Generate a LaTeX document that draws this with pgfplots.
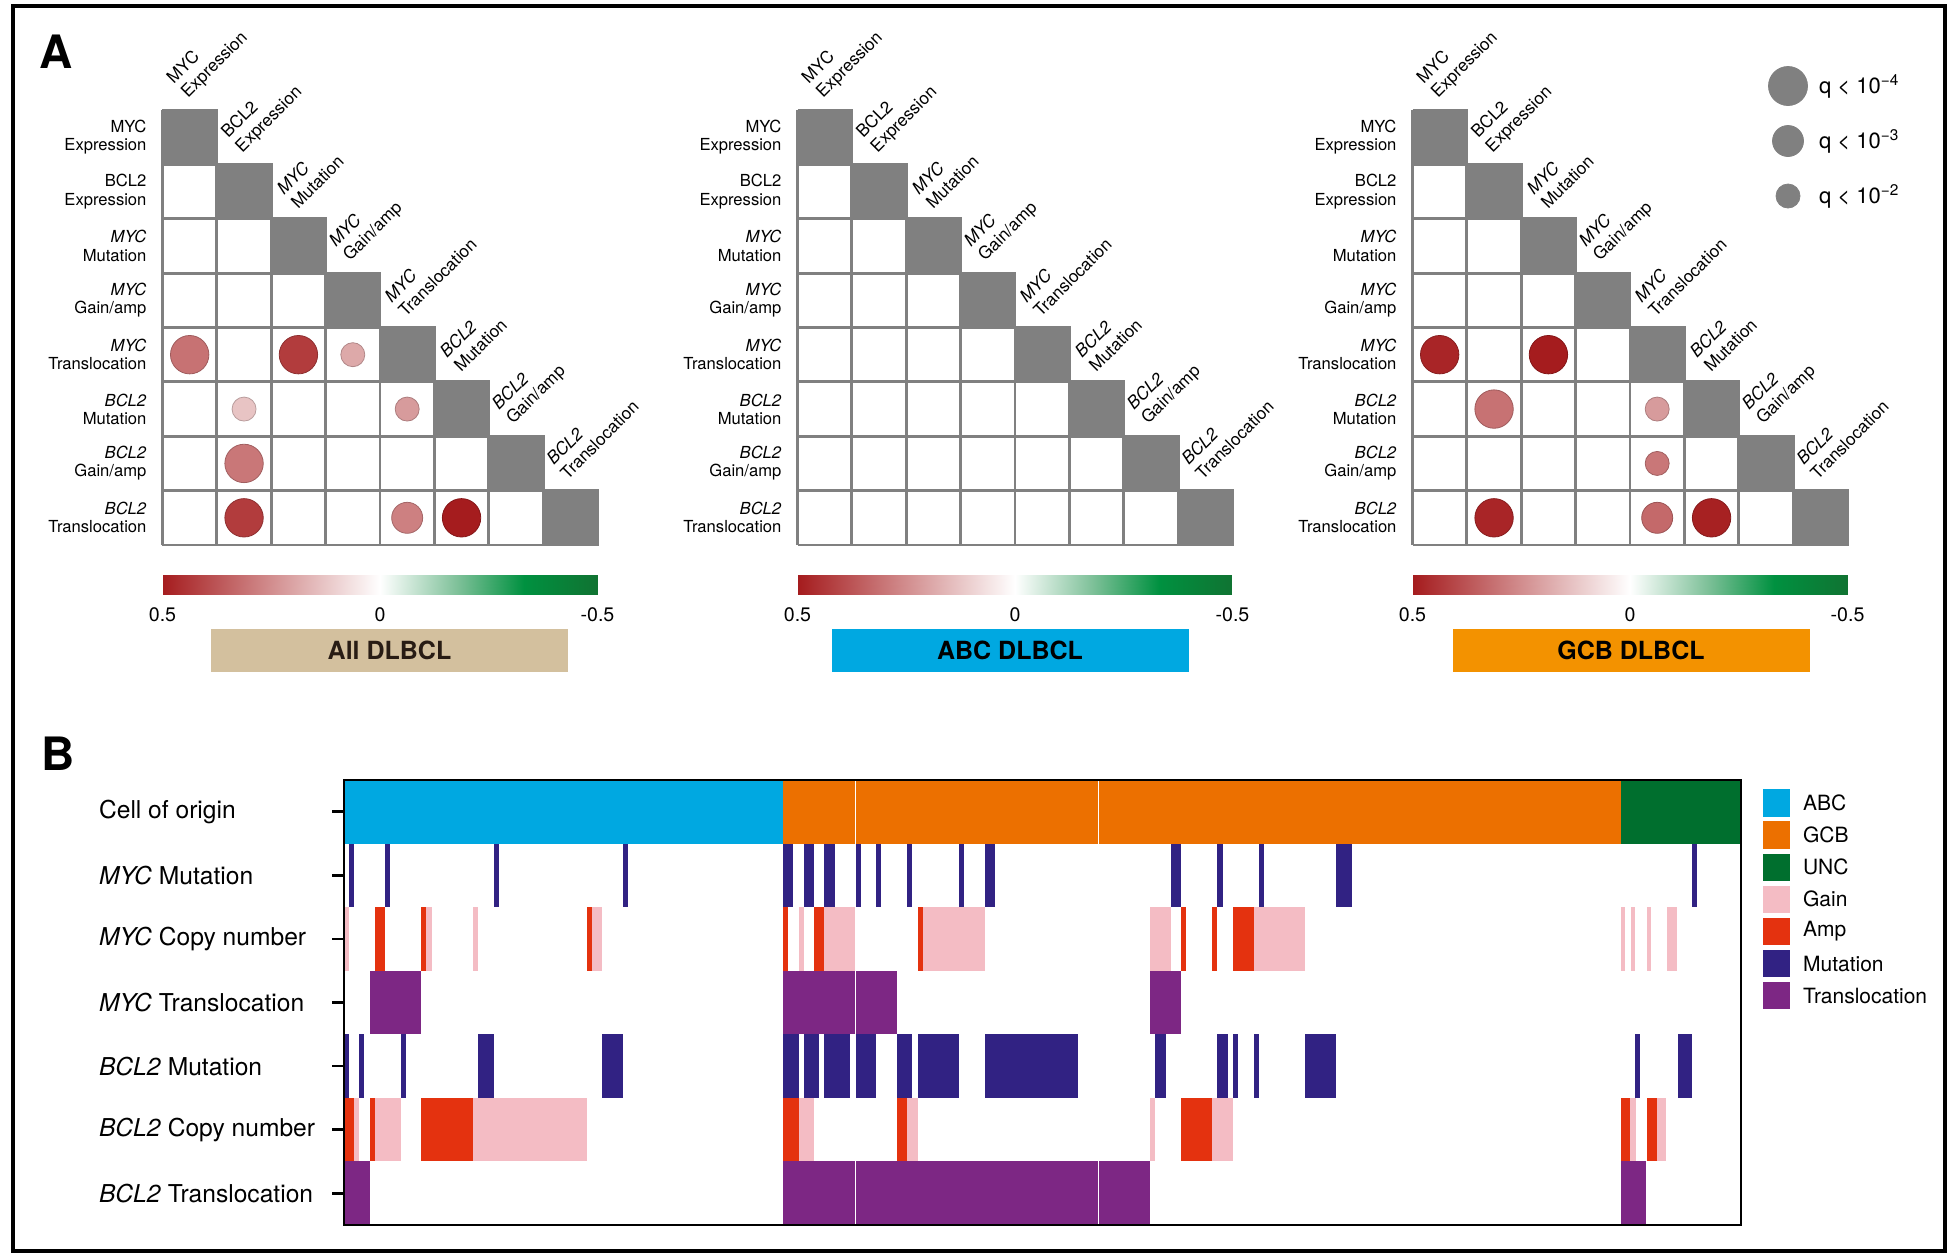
\documentclass[border=0pt]{standalone}
\usepackage{pgfplots}
\pgfplotsset{compat=1.18}
\usepackage{fontspec}
\setmainfont{TeX Gyre Heros}
\definecolor{gridc}{RGB}{128,128,128}
\definecolor{abc}{RGB}{0,168,225}
\definecolor{gcb}{RGB}{236,112,0}
\definecolor{unc}{RGB}{0,111,46}
\definecolor{gain}{RGB}{244,188,196}
\definecolor{amp}{RGB}{228,50,15}
\definecolor{mut}{RGB}{49,34,131}
\definecolor{trans}{RGB}{125,39,132}
\definecolor{tanbox}{RGB}{211,192,158}
\definecolor{gcbbox}{RGB}{243,146,0}
\definecolor{darktxt}{RGB}{40,28,20}

\tikzset{diaglab/.style={rotate=45, anchor=south west, align=left, font=\fontsize{8.6}{10}\selectfont, inner sep=0pt}}
\pgfplotsset{
  corrmap/.style={colormap={corr}{rgb255(0cm)=(16,115,50) rgb255(1.7cm)=(0,145,64) rgb255(3.2cm)=(125,192,152) rgb255(5cm)=(255,255,255) rgb255(10cm)=(165,28,30)}},
  mat/.style={anchor=south west, scale only axis, width=217.5pt, height=217.5pt,
    xmin=0, xmax=8, ymin=0, ymax=8, y dir=reverse, clip=false,
    axis line style={draw=none}, tick style={draw=none},
    xtick=\empty, ytick={0.5,1.5,...,7.5},
    yticklabels={{MYC\\Expression},{BCL2\\Expression},{\textit{MYC}\\Mutation},{\textit{MYC}\\Gain/amp},{\textit{MYC}\\Translocation},{\textit{BCL2}\\Mutation},{\textit{BCL2}\\Gain/amp},{\textit{BCL2}\\Translocation}},
    yticklabel style={align=right, font=\fontsize{8.3}{9.1}\selectfont, xshift=-4.5pt},
    corrmap, point meta min=-0.5, point meta max=0.5},
  cbar/.style={anchor=south west, scale only axis, width=217.5pt, height=10pt,
    xmin=-0.5, xmax=0.5, ymin=0, ymax=1, x dir=reverse, view={0}{90},
    axis line style={draw=none}, tick style={draw=none}, ytick=\empty, ztick=\empty,
    xtick={-0.5,0,0.5}, xticklabels={-0.5,0,0.5},
    xticklabel style={font=\fontsize{9.8}{11}\selectfont, yshift=-3pt},
    corrmap, point meta min=-0.5, point meta max=0.5},
}

\newcommand{\matbody}{%
  \addplot[gridc, line width=1.4pt, unbounded coords=jump, forget plot] coordinates {
    (0,1) (2,1) (nan,nan) (0,2) (3,2) (nan,nan) (0,3) (4,3) (nan,nan) (0,4) (5,4) (nan,nan)
    (0,5) (6,5) (nan,nan) (0,6) (7,6) (nan,nan) (0,7) (8,7) (nan,nan) (0,8) (8,8) (nan,nan)
    (0,0) (0,8) (nan,nan) (1,0) (1,8) (nan,nan) (2,1) (2,8) (nan,nan) (3,2) (3,8) (nan,nan)
    (4,3) (4,8) (nan,nan) (5,4) (5,8) (nan,nan) (6,5) (6,8) (nan,nan) (7,6) (7,8) (nan,nan)
    (8,7) (8,8)};
  \addplot[fill=gridc, draw=gridc, line width=1.4pt, unbounded coords=jump, forget plot] coordinates {
    (0,0) (1,0) (1,1) (0,1) (0,0) (nan,nan)
    (1,1) (2,1) (2,2) (1,2) (1,1) (nan,nan)
    (2,2) (3,2) (3,3) (2,3) (2,2) (nan,nan)
    (3,3) (4,3) (4,4) (3,4) (3,3) (nan,nan)
    (4,4) (5,4) (5,5) (4,5) (4,4) (nan,nan)
    (5,5) (6,5) (6,6) (5,6) (5,5) (nan,nan)
    (6,6) (7,6) (7,7) (6,7) (6,6) (nan,nan)
    (7,7) (8,7) (8,8) (7,8) (7,7)};
  \node[diaglab] at (axis cs:0.52,-0.15) {MYC\\Expression};
  \node[diaglab] at (axis cs:1.52,0.85) {BCL2\\Expression};
  \node[diaglab] at (axis cs:2.5,1.85) {\textit{MYC}\\Mutation};
  \node[diaglab] at (axis cs:3.5,2.85) {\textit{MYC}\\Gain/amp};
  \node[diaglab] at (axis cs:4.48,3.83) {\textit{MYC}\\Translocation};
  \node[diaglab] at (axis cs:5.5,4.85) {\textit{BCL2}\\Mutation};
  \node[diaglab] at (axis cs:6.5,5.85) {\textit{BCL2}\\Gain/amp};
  \node[diaglab] at (axis cs:7.46,6.82) {\textit{BCL2}\\Translocation};
}
\newcommand{\circles}{%
  \addplot[scatter, only marks, mark=*, point meta=\thisrow{v},
    visualization depends on={\thisrow{s} \as \circsize},
    scatter/@pre marker code/.append style={/tikz/mark size=\circsize}]
}
\newcommand{\cbarplot}{%
  \addplot3[surf, shader=interp, point meta=x, mesh/cols=5] coordinates {
    (-0.5,0,0) (-0.33,0,0) (-0.18,0,0) (0,0,0) (0.5,0,0)
    (-0.5,1,0) (-0.33,1,0) (-0.18,1,0) (0,1,0) (0.5,1,0)};
}
\newcommand{\seg}[5]{\addplot[fill=#1, draw=none, forget plot] coordinates {(#2,#4) (#3,#4) (#3,#5) (#2,#5)};}

\begin{document}
\begin{tikzpicture}

% ---------- Panel A: All DLBCL ----------
\begin{axis}[mat, at={(81.25pt,357pt)}]
\matbody
\circles table {
x y v s
0.5 4.5 0.31 9.6
2.5 4.5 0.43 9.6
3.5 4.5 0.19 6
1.5 5.5 0.13 6
4.5 5.5 0.22 6
1.5 6.5 0.30 9.6
1.5 7.5 0.43 9.6
4.5 7.5 0.28 7.75
5.5 7.5 0.50 9.6
};
\end{axis}

% ---------- Panel A: ABC DLBCL ----------
\begin{axis}[mat, at={(398.75pt,357pt)}]
\matbody
\end{axis}

% ---------- Panel A: GCB DLBCL ----------
\begin{axis}[mat, at={(706.25pt,357pt)}]
\matbody
\circles table {
x y v s
0.5 4.5 0.48 9.6
2.5 4.5 0.50 9.6
1.5 5.5 0.31 9.6
4.5 5.5 0.22 6
4.5 6.5 0.30 6
1.5 7.5 0.48 9.6
4.5 7.5 0.33 7.75
5.5 7.5 0.49 9.6
};
\end{axis}

% ---------- colour bars ----------
\begin{axis}[cbar, at={(81.25pt,332pt)}]
\cbarplot
\end{axis}
\begin{axis}[cbar, at={(398.75pt,332pt)}]
\cbarplot
\end{axis}
\begin{axis}[cbar, at={(706.25pt,332pt)}]
\cbarplot
\end{axis}

% ---------- Panel B ----------
\begin{axis}[at={(172pt,17pt)}, anchor=south west, scale only axis,
  width=698.5pt, height=222.5pt,
  xmin=344, xmax=1741, ymin=0, ymax=7, axis on top,
  axis line style={line width=1.4pt},
  xtick=\empty, ytick={0.5,1.5,...,6.5},
  yticklabels={{\textit{BCL2} Translocation},{\textit{BCL2} Copy number},{\textit{BCL2} Mutation},{\textit{MYC} Translocation},{\textit{MYC} Copy number},{\textit{MYC} Mutation},{Cell of origin}},
  ytick pos=left, tick align=outside, major tick length=6pt,
  ytick style={line width=1.4pt, black},
  yticklabel style={anchor=west, xshift=-120pt, font=\fontsize{12.3}{14}\selectfont}]
% Cell of origin
\seg{abc}{344}{783}{6}{7}
\seg{gcb}{783}{854.6}{6}{7}
\seg{gcb}{855.6}{1098}{6}{7}
\seg{gcb}{1099}{1620.5}{6}{7}
\seg{unc}{1620.5}{1741}{6}{7}
% MYC Mutation
\seg{mut}{349}{354}{5}{6}
\seg{mut}{385}{390}{5}{6}
\seg{mut}{494}{499}{5}{6}
\seg{mut}{623}{628}{5}{6}
\seg{mut}{783}{792.7}{5}{6}
\seg{mut}{804}{814}{5}{6}
\seg{mut}{824}{834.7}{5}{6}
\seg{mut}{856}{860.7}{5}{6}
\seg{mut}{876}{880.7}{5}{6}
\seg{mut}{906.7}{912}{5}{6}
\seg{mut}{959}{964}{5}{6}
\seg{mut}{985}{995}{5}{6}
\seg{mut}{1170.7}{1181}{5}{6}
\seg{mut}{1216.7}{1223}{5}{6}
\seg{mut}{1258.7}{1263.7}{5}{6}
\seg{mut}{1336}{1352}{5}{6}
\seg{mut}{1692}{1697}{5}{6}
% MYC Copy number
\seg{gain}{345}{349}{4}{5}
\seg{amp}{375}{385}{4}{5}
\seg{amp}{421}{426}{4}{5}
\seg{gain}{426}{431.7}{4}{5}
\seg{gain}{473}{478}{4}{5}
\seg{amp}{587}{592}{4}{5}
\seg{gain}{592}{601.7}{4}{5}
\seg{amp}{783}{787.7}{4}{5}
\seg{gain}{799}{804}{4}{5}
\seg{amp}{814}{824}{4}{5}
\seg{gain}{824}{855}{4}{5}
\seg{amp}{918}{923}{4}{5}
\seg{gain}{923}{985}{4}{5}
\seg{gain}{1150}{1170.7}{4}{5}
\seg{amp}{1181}{1186}{4}{5}
\seg{amp}{1212}{1217}{4}{5}
\seg{amp}{1233}{1254}{4}{5}
\seg{gain}{1254}{1305}{4}{5}
\seg{gain}{1620.5}{1625}{4}{5}
\seg{gain}{1630.5}{1635}{4}{5}
\seg{gain}{1646.5}{1651}{4}{5}
\seg{gain}{1666.5}{1677}{4}{5}
% MYC Translocation
\seg{trans}{370}{421}{3}{4}
\seg{trans}{783}{854.6}{3}{4}
\seg{trans}{855.6}{897}{3}{4}
\seg{trans}{1150}{1181}{3}{4}
% BCL2 Mutation
\seg{mut}{344}{349}{2}{3}
\seg{mut}{359}{364}{2}{3}
\seg{mut}{401}{406}{2}{3}
\seg{mut}{478}{494}{2}{3}
\seg{mut}{602}{623}{2}{3}
\seg{mut}{783}{799}{2}{3}
\seg{mut}{804}{819}{2}{3}
\seg{mut}{824}{850}{2}{3}
\seg{mut}{856}{876}{2}{3}
\seg{mut}{897}{912}{2}{3}
\seg{mut}{918}{959}{2}{3}
\seg{mut}{985}{1078}{2}{3}
\seg{mut}{1155}{1166}{2}{3}
\seg{mut}{1217}{1228}{2}{3}
\seg{mut}{1233}{1238}{2}{3}
\seg{mut}{1254}{1259}{2}{3}
\seg{mut}{1305}{1336}{2}{3}
\seg{mut}{1635}{1640}{2}{3}
\seg{mut}{1678}{1692}{2}{3}
% BCL2 Copy number
\seg{amp}{344}{354}{1}{2}
\seg{gain}{354}{359}{1}{2}
\seg{amp}{370}{375}{1}{2}
\seg{gain}{375}{401}{1}{2}
\seg{amp}{421}{473}{1}{2}
\seg{gain}{473}{587}{1}{2}
\seg{amp}{783}{799}{1}{2}
\seg{gain}{799}{814}{1}{2}
\seg{amp}{897}{907}{1}{2}
\seg{gain}{907}{918}{1}{2}
\seg{gain}{1150}{1155}{1}{2}
\seg{amp}{1181}{1212}{1}{2}
\seg{gain}{1212}{1233}{1}{2}
\seg{amp}{1620.5}{1630}{1}{2}
\seg{gain}{1630}{1636}{1}{2}
\seg{amp}{1647}{1657}{1}{2}
\seg{gain}{1657}{1666}{1}{2}
% BCL2 Translocation
\seg{trans}{344}{370}{0}{1}
\seg{trans}{783}{854.6}{0}{1}
\seg{trans}{855.6}{1098}{0}{1}
\seg{trans}{1099}{1150}{0}{1}
\seg{trans}{1620.5}{1646}{0}{1}
\end{axis}

% ---------- overlay: legends, titles, frame ----------
\begin{axis}[at={(0pt,0pt)}, anchor=south west, scale only axis, width=980pt, height=629.5pt,
  xmin=0, xmax=1960, ymin=0, ymax=1259, y dir=reverse, hide axis, clip=false]
% panel B legend
\seg{abc}{1762.5}{1790}{789.3}{816.8}
\seg{gcb}{1762.5}{1790}{821.4}{848.9}
\seg{unc}{1762.5}{1790}{853.5}{881}
\seg{gain}{1762.5}{1790}{885.6}{913.1}
\seg{amp}{1762.5}{1790}{917.7}{945.2}
\seg{mut}{1762.5}{1790}{949.8}{977.3}
\seg{trans}{1762.5}{1790}{981.9}{1009.4}
\node[anchor=west, font=\fontsize{10.5}{12}\selectfont] at (axis cs:1796,803) {ABC};
\node[anchor=west, font=\fontsize{10.5}{12}\selectfont] at (axis cs:1796,835.1) {GCB};
\node[anchor=west, font=\fontsize{10.5}{12}\selectfont] at (axis cs:1796,867.2) {UNC};
\node[anchor=west, font=\fontsize{10.5}{12}\selectfont] at (axis cs:1796,899.3) {Gain};
\node[anchor=west, font=\fontsize{10.5}{12}\selectfont] at (axis cs:1796,931.4) {Amp};
\node[anchor=west, font=\fontsize{10.5}{12}\selectfont] at (axis cs:1796,963.5) {Mutation};
\node[anchor=west, font=\fontsize{10.5}{12}\selectfont] at (axis cs:1796,995.6) {Translocation};
% q-value size legend
\addplot[only marks, mark=*, color=gridc, mark size=9.75pt, forget plot] coordinates {(1788,86)};
\addplot[only marks, mark=*, color=gridc, mark size=7.75pt, forget plot] coordinates {(1788,141)};
\addplot[only marks, mark=*, color=gridc, mark size=6pt, forget plot] coordinates {(1788,196)};
\node[anchor=west, font=\fontsize{11}{13}\selectfont] at (axis cs:1812,86) {q < 10\textsuperscript{−4}};
\node[anchor=west, font=\fontsize{11}{13}\selectfont] at (axis cs:1812,141) {q < 10\textsuperscript{−3}};
\node[anchor=west, font=\fontsize{11}{13}\selectfont] at (axis cs:1812,196) {q < 10\textsuperscript{−2}};
% subset titles
\node[fill=tanbox, minimum width=178.5pt, minimum height=21.5pt, text=darktxt, font=\bfseries\fontsize{12.5}{14}\selectfont] at (axis cs:389.5,650.5) {All DLBCL};
\node[fill=abc, minimum width=178.5pt, minimum height=21.5pt, font=\bfseries\fontsize{12.5}{14}\selectfont] at (axis cs:1010,650.5) {ABC DLBCL};
\node[fill=gcbbox, minimum width=178.5pt, minimum height=21.5pt, font=\bfseries\fontsize{12.5}{14}\selectfont] at (axis cs:1631,650.5) {GCB DLBCL};
% panel letters
\node[font=\bfseries\fontsize{23}{23}\selectfont] at (axis cs:56,52) {A};
\node[font=\bfseries\fontsize{23}{23}\selectfont] at (axis cs:58,753.5) {B};
% outer frame
\draw[line width=1.6pt] (axis cs:13,6) rectangle (axis cs:1945,1251);
\end{axis}
\path (0pt,0pt) rectangle (980pt,629.5pt);
\end{tikzpicture}
\end{document}
